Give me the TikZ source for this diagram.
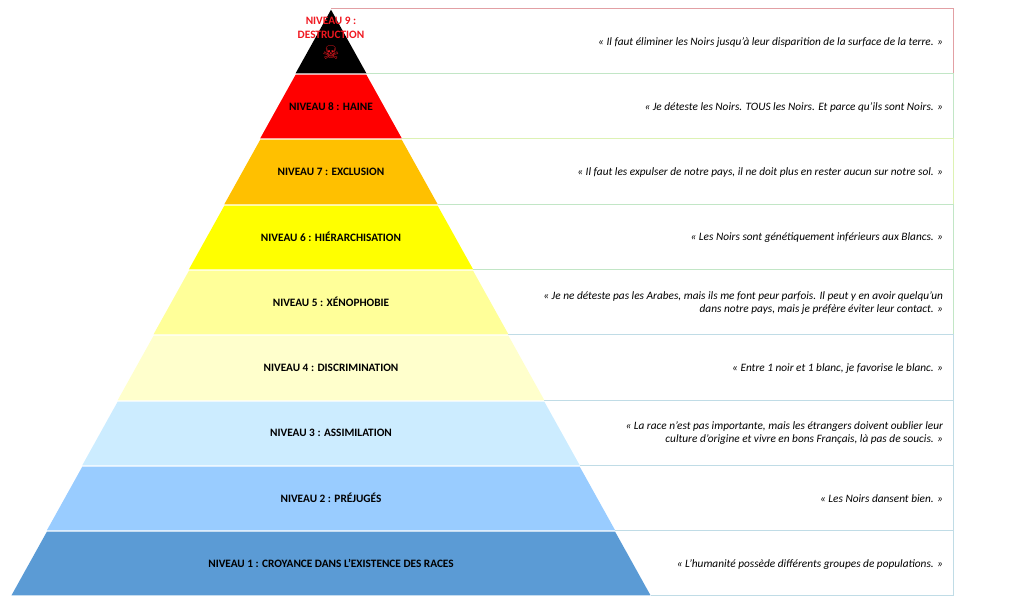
\documentclass[tikz,border=0pt]{standalone}
\usepackage{fontspec}
\setmainfont{Carlito}
\newfontfamily\skullfont{DejaVu Sans Bold}
\definecolor{lvlA}{HTML}{5B9BD5}
\definecolor{lvlB}{HTML}{99CCFF}
\definecolor{lvlC}{HTML}{CCECFF}
\definecolor{lvlD}{HTML}{FFFFCC}
\definecolor{lvlE}{HTML}{FFFF99}
\definecolor{lvlF}{HTML}{FFFF00}
\definecolor{lvlG}{HTML}{FFC000}
\definecolor{lvlH}{HTML}{FF0000}
\definecolor{lvlI}{HTML}{000000}
\definecolor{lineblue}{HTML}{C0DCE6}
\definecolor{linegreen}{HTML}{C2E6C6}
\definecolor{linelime}{HTML}{DDF2B4}
\definecolor{linered}{HTML}{E2A0A4}
\definecolor{skullred}{HTML}{F01820}
\tikzset{
	lvltext/.style={font=\fontsize{11.3}{14}\selectfont\bfseries, align=center},
	quotetext/.style={font=\fontsize{11.3}{13}\selectfont\itshape, align=right, anchor=east},
}
\begin{document}
\begin{tikzpicture}[x=1pt, y=-1pt]
\useasboundingbox (0,0) rectangle (1024,614);
% quote boxes
\foreach \ya/\yb/\linecol in {9/74/linered, 74/139/linegreen, 139/205/linelime, 205/270/linegreen, 270/335/linegreen, 335/401/lineblue, 401/466/lineblue, 466/531/lineblue, 531/596/lineblue}
{
	\pgfmathsetmacro{\wa}{(\ya-9)*0.5443}
	\pgfmathsetmacro{\wb}{(\yb-9)*0.5443}
	\draw[\linecol, line width=1pt] (331+\wa,\ya-0.5) -- (953,\ya-0.5) -- (953,\yb-0.5) -- (331+\wb,\yb-0.5);
}
% pyramid
\foreach \ya/\yb/\col in {531/596/lvlA, 466/531/lvlB, 401/466/lvlC, 335/401/lvlD, 270/335/lvlE, 205/270/lvlF, 139/205/lvlG, 74/139/lvlH, 9/74/lvlI}
{
	\pgfmathsetmacro{\wa}{(\ya-9)*0.5443}
	\pgfmathsetmacro{\wb}{(\yb-9)*0.5443}
	\fill[\col] (331-\wa,\ya+0.7) -- (331+\wa,\ya+0.7) -- (331+\wb,\yb-0.7) -- (331-\wb,\yb-0.7) -- cycle;
}
% levels
\foreach \n/\y/\txt in {1/563.5/{NIVEAU 1 : CROYANCE DANS L’EXISTENCE DES RACES}, 2/498/{NIVEAU 2 : PRÉJUGÉS}, 3/433/{NIVEAU 3 : ASSIMILATION}, 4/367.5/{NIVEAU 4 : DISCRIMINATION}, 5/301.5/{NIVEAU 5 : XÉNOPHOBIE}, 6/236.5/{NIVEAU 6 : HIÉRARCHISATION}, 7/171.5/{NIVEAU 7 : EXCLUSION}, 8/106.5/{NIVEAU 8 : HAINE}}
{
	\node[lvltext] (lvl\n) at (331,\y) {\txt};
}
\node[lvltext, text=skullred] (lvl9) at (331,28) {NIVEAU 9 :\\DESTRUCTION};
\node[text=skullred, font=\skullfont\fontsize{19}{19}\selectfont] (skull) at (331,53) {☠};
% quotes
\foreach \n/\y/\txt in {1/564.5/{« L’humanité possède différents groupes de populations.  »}, 2/499/{« Les Noirs dansent bien. »}, 3/433.5/{« La race n’est pas importante, mais les étrangers doivent oublier leur\\culture d’origine et vivre en bons Français, là pas de soucis. »}, 4/368.5/{« Entre 1 noir et 1 blanc, je favorise le blanc. »}, 5/303/{« Je ne déteste pas les Arabes, mais ils me font peur parfois. Il peut y en avoir quelqu’un\\dans notre pays, mais je préfère éviter leur contact. »}, 6/237.5/{« Les Noirs sont génétiquement inférieurs aux Blancs. »}, 7/172.5/{« Il faut les expulser de notre pays, il ne doit plus en rester aucun sur notre sol.  »}, 8/107.5/{« Je déteste les Noirs. TOUS les Noirs. Et parce qu’ils sont Noirs. »}, 9/42.5/{« Il faut éliminer les Noirs jusqu’à leur disparition de la surface de la terre. »}}
{
	\node[quotetext] (quote\n) at (946.5,\y) {\txt};
}
\end{tikzpicture}
\end{document}
